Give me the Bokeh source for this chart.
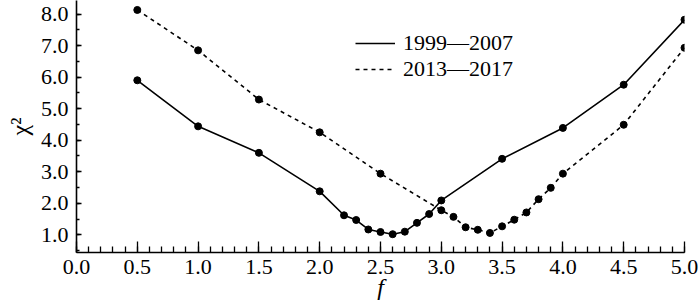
from bokeh.plotting import figure
from bokeh.models import FixedTicker, Range1d, Legend, LegendItem, PrintfTickFormatter
from bokeh.embed import file_html
from bokeh.resources import INLINE

# ---- data ----
f_a = [0.5, 1.0, 1.5, 2.0, 2.2, 2.3, 2.4, 2.5, 2.6, 2.7, 2.8, 2.9, 3.0, 3.5, 4.0, 4.5, 5.0]
chi_a = [5.90, 4.44, 3.60, 2.38, 1.62, 1.47, 1.17, 1.09, 1.02, 1.10, 1.38, 1.66, 2.09, 3.41, 4.39, 5.76, 7.82]
f_b = [0.5, 1.0, 1.5, 2.0, 2.5, 3.0, 3.1, 3.2, 3.3, 3.4, 3.5, 3.6, 3.7, 3.8, 3.9, 4.0, 4.5, 5.0]
chi_b = [8.13, 6.85, 5.29, 4.25, 2.94, 1.78, 1.57, 1.24, 1.16, 1.06, 1.27, 1.48, 1.71, 2.13, 2.49, 2.94, 4.49, 6.93]
label_a = "1999\u20142007"
label_b = "2013\u20142017"
x_title = "f"
y_title = "\u03c7\u00b2"
x_major = [0.0, 0.5, 1.0, 1.5, 2.0, 2.5, 3.0, 3.5, 4.0, 4.5, 5.0]
x_minor = [round(i * 0.1, 1) for i in range(51)]
y_major = [1.0, 2.0, 3.0, 4.0, 5.0, 6.0, 7.0, 8.0]
y_minor = [round(0.5 + i * 0.5, 1) for i in range(16)]

FONT = "Liberation Serif"
FS = "22px"

p = figure(width=700, height=307, output_backend="svg", toolbar_location=None,
           x_range=Range1d(0.0, 5.0), y_range=Range1d(0.44, 8.43),
           min_border_left=76, min_border_right=16, min_border_top=0, min_border_bottom=55)
p.outline_line_color = None
p.xgrid.visible = False
p.ygrid.visible = False
p.background_fill_color = "white"

line_a = p.line(f_a, chi_a, line_color="black", line_width=1.6)
p.scatter(f_a, chi_a, size=7, fill_color="black", line_color="black")
line_b = p.line(f_b, chi_b, line_color="black", line_width=1.6, line_dash="4 4")
p.scatter(f_b, chi_b, size=7, fill_color="black", line_color="black")

# axes
xa = p.xaxis[0]
xa.ticker = FixedTicker(ticks=x_major, minor_ticks=x_minor)
xa.formatter = PrintfTickFormatter(format="%.1f")
xa.axis_label = x_title
xa.axis_label_text_font_style = "italic"
xa.axis_label_standoff = -3
xa.major_label_standoff = 7
xa.major_tick_in = 11
xa.major_tick_out = 0
xa.minor_tick_in = 6
xa.minor_tick_out = 0

ya = p.yaxis[0]
ya.ticker = FixedTicker(ticks=y_major, minor_ticks=y_minor)
ya.formatter = PrintfTickFormatter(format="%.1f")
ya.axis_label = y_title
ya.axis_label_text_font_style = "normal"
ya.axis_label_standoff = 5
ya.major_label_standoff = 8
ya.major_tick_in = 5
ya.major_tick_out = 0
ya.minor_tick_in = 3
ya.minor_tick_out = 0

for ax in (xa, ya):
    ax.axis_line_color = "black"
    ax.axis_line_width = 1.6
    ax.major_tick_line_color = "black"
    ax.minor_tick_line_color = "black"
    ax.major_tick_line_width = 1.3
    ax.minor_tick_line_width = 1.3
    ax.major_label_text_font = FONT
    ax.major_label_text_font_size = FS
    ax.major_label_text_color = "black"
    ax.axis_label_text_font = FONT
    ax.axis_label_text_font_size = "24px"
    ax.axis_label_text_color = "black"

legend = Legend(items=[LegendItem(label=label_a, renderers=[line_a]),
                       LegendItem(label=label_b, renderers=[line_b])],
                location=(279, 170), padding=0, margin=0, spacing=0,
                glyph_width=40, glyph_height=20, label_height=20, label_standoff=8,
                label_text_font=FONT, label_text_font_size=FS, label_text_color="black",
                border_line_alpha=0, background_fill_alpha=0)
p.add_layout(legend, "center")

open("out.html", "w").write(file_html(p, INLINE))
